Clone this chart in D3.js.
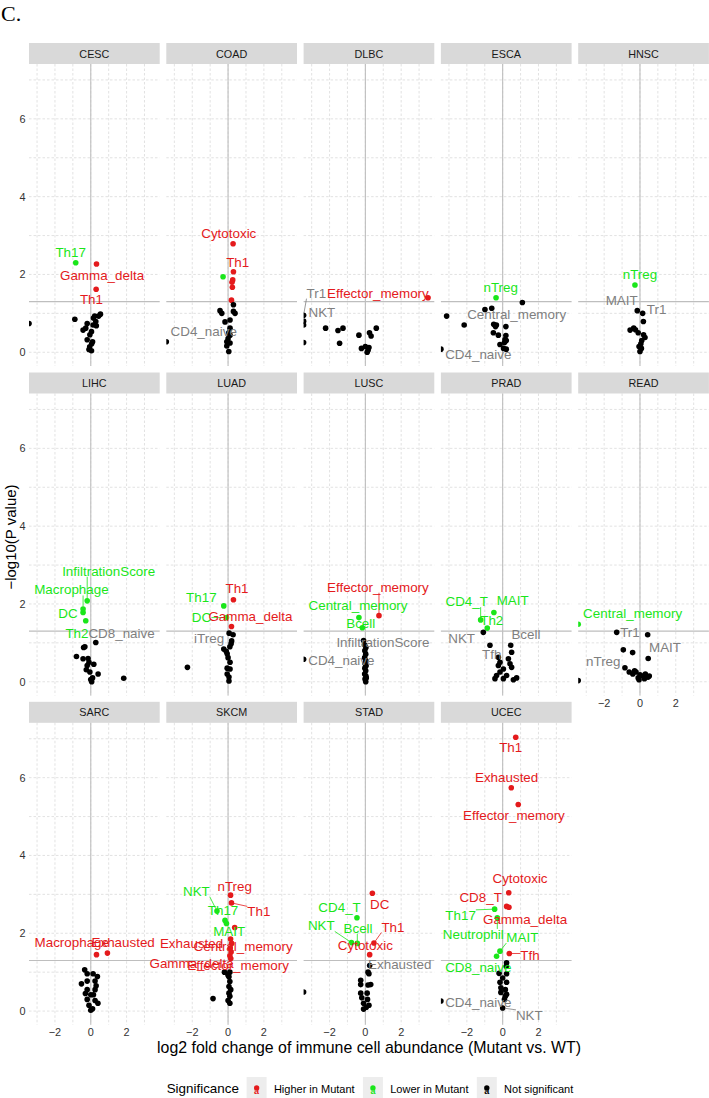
<!DOCTYPE html>
<html><head><meta charset="utf-8">
<script src="https://cdn.jsdelivr.net/npm/d3@7"></script>
<style>body{margin:0;background:#fff}svg{display:block;font-family:"Liberation Sans",Arial,sans-serif}</style>
</head><body>
<svg id="chart" width="709" height="1098"></svg>
<script>
// ---------------- data ----------------
const cancers = ["CESC","COAD","DLBC","ESCA","HNSC","LIHC","LUAD","LUSC","PRAD","READ","SARC","SKCM","STAD","UCEC"];
const xTicks = [-2, 0, 2];
const yTicks = [0, 2, 4, 6];
const pThreshold = 1.30103;
const sigLevels = ["Higher in Mutant", "Lower in Mutant", "Not significant"];
const xTitle = "log2 fold change of immune cell abundance (Mutant vs. WT)";
const yTitle = "\u2212log10(P value)";

// [cell type ("" = unlabeled), log2 fold change, -log10 P]
const CESC = [["Th17",-0.84,2.30],["Gamma_delta",0.32,2.27],["Th1",0.30,1.62],
 ["",-0.89,0.85],["",0.54,0.98],["",0.44,0.93],["",0.22,0.93],["",0.28,0.79],["",-0.20,0.74],["",0.13,0.70],["",-0.43,0.57],["",-0.28,0.62],["",0.04,0.53],["",-0.20,0.32],["",0.10,0.27],["",-0.06,0.14],["",0.04,0.04],["",-0.10,0.07],["",0.31,0.68],["",-3.45,0.74],["",0.05,0.22],["",0.15,0.88],["",-0.05,0.45]];
const COAD = [["Cytotoxic",0.28,2.79],["",-0.28,1.94],["Th1",0.30,2.07],["",0.26,1.86],["",0.22,1.80],["",0.24,1.67],["",0.19,1.34],
 ["",-0.45,1.07],["",-0.35,1.00],["",0.30,1.22],["",0.39,1.00],["",0.30,1.05],["",-0.17,0.78],["",0.11,0.83],["",0.11,0.62],["",0.04,0.50],["",-0.07,0.27],["",0.11,0.24],["",-0.07,0.16],["",0.04,0.02],["",0.11,0.44],["",0.00,0.35],["CD4_naive",-3.45,0.27]];
const DLBC = [["Effector_memory",3.50,1.40],["Tr1",-3.45,0.95],["NKT",-3.45,0.80],["",-3.45,0.25],["",-3.45,0.70],
 ["",-2.22,0.62],["",-1.53,0.56],["",-1.25,0.62],["",-1.44,0.23],["",-0.36,0.44],["",0.23,0.50],["",0.32,0.42],["",0.61,0.62],["",-0.22,0.10],["",0.00,0.15],["",0.10,0.00],["",0.15,0.05],["",0.20,0.12]];
const ESCA = [["nTreg",-0.37,1.40],["",1.10,1.28],["",-0.99,1.10],["Central_memory",-0.61,1.13],
 ["",-3.13,0.93],["",-2.15,0.70],["",-0.50,0.72],["",-0.35,0.70],["",-0.40,0.66],["",0.18,0.66],["",-0.52,0.50],["",-0.24,0.44],["",0.18,0.43],["",0.13,0.33],["",-0.15,0.20],["",0.05,0.10],["",0.20,0.08],["",0.10,0.25],["",0.20,0.30],["CD4_naive",-3.45,0.08]];
const HNSC = [["nTreg",-0.28,1.73],["MAIT",-0.15,1.07],["Tr1",0.15,1.00],
 ["",0.19,0.79],["",-0.55,0.57],["",-0.35,0.62],["",-0.25,0.58],["",0.20,0.45],["",0.28,0.38],["",0.05,0.22],["",0.08,0.10],["",0.00,0.02],["",-0.05,0.15],["",0.10,0.30],["",-0.10,0.50]];
const LIHC = [["InfiltrationScore",-0.20,2.08],["Macrophage",-0.43,1.87],["DC",-0.43,1.78],["Th2",-0.28,1.57],["CD8_naive",0.28,1.01],
 ["",-0.40,0.88],["",-0.33,0.90],["",-0.80,0.65],["",-0.43,0.59],["",-0.15,0.60],["",0.17,0.45],["",-0.20,0.42],["",-0.25,0.31],["",0.41,0.20],["",0.00,0.06],["",0.10,0.10],["",1.84,0.09],["",-0.10,0.50],["",0.05,0.00],["",-0.05,0.25]];
const LUAD = [["Th1",0.30,2.11],["Th17",-0.24,1.95],["DC",-0.09,1.65],["Gamma_delta",0.19,1.42],["iTreg",0.06,1.25],
 ["",0.28,1.21],["",0.20,1.05],["",0.17,0.98],["",-0.24,0.84],["",-0.05,0.72],["",0.00,0.62],["",0.11,0.50],["",-2.27,0.37],["",-0.05,0.35],["",0.11,0.33],["",-0.05,0.20],["",0.05,0.12],["",0.05,0.02],["",0.10,0.90],["",-0.10,0.78]];
const LUSC = [["Effector_memory",0.76,1.70],["Central_memory",-0.36,1.65],["Bcell",-0.17,1.39],["InfiltrationScore",-0.10,1.06],["CD4_naive",-3.45,0.58],
 ["",-0.05,0.95],["",0.03,0.88],["",-0.03,0.80],["",0.02,0.71],["",-0.04,0.62],["",0.03,0.54],["",-0.02,0.47],["",0.04,0.41],["",-0.03,0.35],["",0.02,0.28],["",-0.04,0.20],["",0.03,0.15],["",-0.02,0.07],["",0.02,0.00],["",0.05,0.10]];
const PRAD = [["MAIT",-0.49,1.78],["CD4_T",-1.23,1.59],["Th2",-0.86,1.38],["NKT",-1.08,1.27],["Bcell",0.45,0.94],["Tfh",-0.71,0.94],
 ["",0.50,0.76],["",0.32,0.59],["",0.41,0.46],["",-0.15,0.50],["",-0.24,0.42],["",0.04,0.33],["",0.50,0.37],["",-0.15,0.25],["",-0.34,0.16],["",0.22,0.16],["",0.04,0.08],["",-0.43,0.08],["",0.78,0.10],["",0.60,0.05],["",-0.24,0.63]];
const READ = [["Central_memory",-3.45,1.48],["Tr1",-1.30,1.27],["",0.43,1.21],["MAIT",0.46,0.60],["nTreg",-0.84,0.36],
 ["",-0.93,0.82],["",-0.41,0.75],["",-0.60,0.25],["",-0.40,0.20],["",-0.22,0.25],["",0.00,0.18],["",0.17,0.15],["",0.45,0.12],["",0.52,0.15],["",-0.10,0.10],["",-0.30,0.28],["",-0.05,0.05],["",0.25,0.08],["",0.30,0.20],["",-3.45,0.03]];
const SARC = [["Macrophage",0.32,1.45],["Exhausted",0.93,1.49],
 ["",-0.34,1.06],["",-0.20,0.96],["",0.13,0.96],["",0.37,0.89],["",0.24,0.77],["",-0.20,0.77],["",-0.52,0.70],["",-0.20,0.55],["",0.24,0.55],["",0.00,0.42],["",0.15,0.42],["",-0.20,0.30],["",0.24,0.27],["",-0.10,0.15],["",0.40,0.20],["",0.00,0.02],["",0.10,0.06],["",0.30,0.65],["",-0.30,0.45]];
const SKCM = [["nTreg",0.14,2.98],["Th1",0.19,2.78],["NKT",-0.62,2.57],["Th17",-0.17,2.33],["MAIT",-0.09,2.25],["",0.37,2.15],
 ["Exhausted",0.14,1.85],["Central_memory",0.20,1.74],["Gamma_delta",0.12,1.62],["Effector_memory",0.17,1.52],["",0.10,1.42],["",0.15,1.35],
 ["",-0.20,1.00],["",0.10,1.00],["",0.00,0.92],["",0.05,0.88],["",0.10,0.76],["",0.05,0.63],["",0.15,0.55],["",0.05,0.46],["",0.10,0.38],["",0.00,0.27],["",-0.84,0.32],["",0.10,0.20]];
const STAD = [["DC",0.39,3.03],["CD4_T",-0.47,2.40],["Th1",0.48,1.75],["NKT",-0.78,1.76],["Bcell",-0.45,1.74],["Cytotoxic",0.24,1.45],["Exhausted",0.24,1.17],
 ["",0.20,0.96],["",0.15,1.00],["",-0.26,0.79],["",-0.26,0.68],["",0.30,0.68],["",0.15,0.67],["",-0.26,0.46],["",0.10,0.46],["",-0.20,0.34],["",0.12,0.30],["",-0.10,0.20],["",0.05,0.10],["",-0.10,0.05],["",0.20,0.15],["",-3.45,0.49]];
const UCEC = [["Th1",0.73,7.04],["Exhausted",0.48,5.74],["Effector_memory",0.87,5.31],["Cytotoxic",0.34,3.04],["CD8_T",0.22,2.69],["Gamma_delta",0.35,2.67],
 ["Th17",-0.45,2.62],["Neutrophil",-0.30,2.40],["MAIT",-0.15,1.54],["CD8_naive",-0.34,1.41],["Tfh",0.37,1.48],
 ["",0.22,1.24],["",0.20,1.15],["",-0.20,0.97],["",0.22,0.96],["",-0.15,0.74],["",0.22,0.74],["",-0.10,0.60],["",0.15,0.55],["",-0.10,0.48],["",0.22,0.43],["",0.15,0.38],["",0.10,0.30],["",0.00,0.85],
 ["CD4_naive",-3.45,0.26],["NKT",0.00,0.08]];

// label nudges (repel result) in data units [d log2FC, d -log10P]
const labelNudge = {
 CESC:{Th17:[-0.28,0.27],Gamma_delta:[0.31,-0.29],Th1:[-0.26,-0.26]},
 COAD:{Cytotoxic:[-0.24,0.26],Th1:[0.24,0.25],CD4_naive:[2.09,0.26]},
 DLBC:{Effector_memory:[-2.80,0.10],Tr1:[0.71,0.57],NKT:[1.02,0.23]},
 ESCA:{nTreg:[0.26,0.26],Central_memory:[1.39,-0.15],CD4_naive:[2.09,-0.15]},
 HNSC:{nTreg:[0.28,0.26],MAIT:[-0.87,0.26],Tr1:[0.78,0.09]},
 LIHC:{InfiltrationScore:[1.20,0.76],Macrophage:[-0.65,0.49],DC:[-0.84,-0.03],Th2:[-0.49,-0.32],CD8_naive:[1.44,0.24]},
 LUAD:{Th1:[0.20,0.28],Th17:[-1.25,0.21],DC:[-1.40,0.01],Gamma_delta:[1.06,0.26],iTreg:[-1.12,-0.15]},
 LUSC:{Effector_memory:[-0.06,0.73],Central_memory:[-0.05,0.31],Bcell:[-0.09,0.10],InfiltrationScore:[1.08,-0.06],CD4_naive:[2.11,-0.03]},
 PRAD:{MAIT:[1.05,0.31],CD4_T:[-0.78,0.47],Th2:[0.25,0.19],NKT:[-1.21,-0.17],Bcell:[0.85,0.27],Tfh:[0.10,-0.24]},
 READ:{Central_memory:[3.04,0.27],Tr1:[0.74,0.00],MAIT:[0.94,0.27],nTreg:[-1.21,0.17]},
 SARC:{Macrophage:[-1.38,0.30],Exhausted:[0.88,0.26]},
 SKCM:{nTreg:[0.23,0.22],Th1:[1.53,-0.23],NKT:[-1.15,0.51],Th17:[-0.11,0.26],MAIT:[0.15,-0.20],Exhausted:[-2.18,-0.12],Central_memory:[0.64,-0.08],Gamma_delta:[-2.16,-0.40],Effector_memory:[0.39,-0.34]},
 STAD:{DC:[0.41,-0.29],CD4_T:[-0.97,0.25],Th1:[1.06,0.41],NKT:[-1.68,0.43],Bcell:[0.04,0.39],Cytotoxic:[-0.24,0.24],Exhausted:[1.68,0.03]},
 UCEC:{Th1:[-0.28,-0.27],Exhausted:[-0.26,0.26],Effector_memory:[-0.24,-0.29],Cytotoxic:[0.63,0.37],CD8_T:[-1.45,0.24],Gamma_delta:[0.90,-0.32],Th17:[-1.90,-0.16],Neutrophil:[-1.34,-0.43],MAIT:[1.25,0.35],CD8_naive:[-1.02,-0.28],Tfh:[1.16,-0.05],CD4_naive:[2.09,-0.03],NKT:[1.49,-0.19]}
};
const panelData = {CESC,COAD,DLBC,ESCA,HNSC,LIHC,LUAD,LUSC,PRAD,READ,SARC,SKCM,STAD,UCEC};

// ---------------- styles / layout ----------------
const pointCol = ["#E41A1C", "#1AE61A", "#000000"];
const labelCol = ["#E41A1C", "#1AE61A", "#7F7F7F"];
const panelLeft = 29, panelW = 130.7, colStep = 137.3;
const rowTop = [43, 372.5, 701.8], stripH = 21, panelH = 302;
const nCol = 5;

const x = d3.scaleLinear().domain([-3.45, 3.85]).range([0, panelW]);
const y = d3.scaleLinear().domain([-0.353, 7.41]).range([panelH, 0]);
const sig = d => d[2] > pThreshold ? (d[1] > 0 ? 0 : 1) : 2;

const svg = d3.select("#chart");
svg.append("rect").attr("width", 709).attr("height", 1098).attr("fill", "#fff");
svg.append("text").attr("x", 1).attr("y", 21).attr("font-family", "Liberation Serif, Times New Roman, serif")
  .attr("font-size", 22).text("C.");

const defs = svg.append("defs");
defs.append("clipPath").attr("id", "pclip").append("rect").attr("width", panelW).attr("height", panelH);

cancers.forEach((c, i) => {
  const row = Math.floor(i / nCol), col = i % nCol;
  const px = panelLeft + col * colStep, sy = rowTop[row], py = sy + stripH;
  // strip
  svg.append("rect").attr("x", px).attr("y", sy).attr("width", panelW).attr("height", stripH).attr("fill", "#D9D9D9");
  svg.append("text").attr("x", px + panelW / 2).attr("y", sy + stripH / 2).attr("text-anchor", "middle")
    .attr("dominant-baseline", "central").attr("font-size", 10.8).attr("fill", "#1A1A1A").text(c);
  const g = svg.append("g").attr("transform", `translate(${px},${py})`);
  // grid
  const grid = g.append("g").attr("stroke", "#D6D6D6").attr("stroke-width", 0.7).attr("stroke-dasharray", "2.5,2");
  d3.range(-3, 4).forEach(v => grid.append("line").attr("x1", x(v)).attr("x2", x(v)).attr("y1", 0).attr("y2", panelH));
  d3.range(0, 8).forEach(v => grid.append("line").attr("y1", y(v)).attr("y2", y(v)).attr("x1", 0).attr("x2", panelW));
  // reference lines
  g.append("line").attr("x1", x(0)).attr("x2", x(0)).attr("y1", 0).attr("y2", panelH).attr("stroke", "#BEBEBE").attr("stroke-width", 1.1);
  g.append("line").attr("x1", 0).attr("x2", panelW).attr("y1", y(pThreshold)).attr("y2", y(pThreshold)).attr("stroke", "#BEBEBE").attr("stroke-width", 1.1);
  // points
  const data = panelData[c];
  g.append("g").attr("clip-path", "url(#pclip)").selectAll("circle").data(data).join("circle")
    .attr("cx", d => x(d[1])).attr("cy", d => y(d[2])).attr("r", 2.8).attr("fill", d => pointCol[sig(d)]);
  // labels
  const lg = g.append("g");
  data.filter(d => d[0] !== "").forEach(d => {
    const nz = (labelNudge[c] || {})[d[0]] || [0, 0];
    const lx = x(d[1] + nz[0]), ly = y(d[2] + nz[1]);
    const col_ = labelCol[sig(d)];
    const seg = lg.append("line").attr("stroke", col_).attr("stroke-width", 0.8);
    const t = lg.append("text").attr("x", lx).attr("y", ly).attr("text-anchor", "middle")
      .attr("dominant-baseline", "central").attr("font-size", 13.4).attr("fill", col_).text(d[0]);
    const bb = t.node().getBBox();
    const ppx = x(d[1]), ppy = y(d[2]);
    const cx = Math.max(bb.x, Math.min(ppx, bb.x + bb.width));
    const cy = Math.max(bb.y + 2, Math.min(ppy, bb.y + bb.height - 2));
    const dist = Math.hypot(cx - ppx, cy - ppy);
    if (dist > 9) {
      const ux = (cx - ppx) / dist, uy = (cy - ppy) / dist;
      seg.attr("x1", ppx + ux * 2.5).attr("y1", ppy + uy * 2.5).attr("x2", cx).attr("y2", cy);
    } else seg.remove();
  });
  // y axis
  if (col === 0) {
    yTicks.forEach(v => svg.append("text").attr("x", 25.5).attr("y", py + y(v)).attr("text-anchor", "end")
      .attr("dominant-baseline", "central").attr("font-size", 10.9).attr("fill", "#333").text(v));
  }
  // x axis on bottom-most panels of each column
  const below = i + nCol;
  if (below >= cancers.length) {
    xTicks.forEach(v => svg.append("text").attr("x", px + x(v)).attr("y", py + panelH + 7.5).attr("text-anchor", "middle")
      .attr("dominant-baseline", "central").attr("font-size", 10.9).attr("fill", "#333").text(v < 0 ? "\u2212" + Math.abs(v) : v));
  }
});

// axis titles
svg.append("text").attr("x", 369).attr("y", 1047).attr("text-anchor", "middle").attr("dominant-baseline", "central")
  .attr("font-size", 15.9).attr("fill", "#000").text(xTitle);
svg.append("text").attr("transform", "translate(10,537) rotate(-90)").attr("text-anchor", "middle").attr("dominant-baseline", "central")
  .attr("font-size", 15).attr("fill", "#000").text(yTitle);

// legend
const leg = svg.append("g");
const legY = 1088.5;
const lt = leg.append("text").attr("x", 166.7).attr("y", legY).attr("dominant-baseline", "central").attr("font-size", 13.4).text("Significance");
let cur = 166.7 + lt.node().getComputedTextLength() + 7.7;
sigLevels.forEach((s, k) => {
  leg.append("rect").attr("x", cur).attr("y", 1077).attr("width", 20).attr("height", 23).attr("fill", "#EDEDED");
  const kx = cur + 10;
  leg.append("text").attr("x", kx).attr("y", legY + 2).attr("text-anchor", "middle").attr("dominant-baseline", "central")
    .attr("font-size", 9).attr("font-weight", "bold").attr("fill", pointCol[k]).text("a");
  leg.append("circle").attr("cx", kx).attr("cy", legY - 0.5).attr("r", 2.7).attr("fill", pointCol[k]);
  const tt = leg.append("text").attr("x", cur + 27.3).attr("y", legY).attr("dominant-baseline", "central").attr("font-size", 11).text(s);
  cur = cur + 27.3 + tt.node().getComputedTextLength() + 8.3;
});
</script>
</body></html>
